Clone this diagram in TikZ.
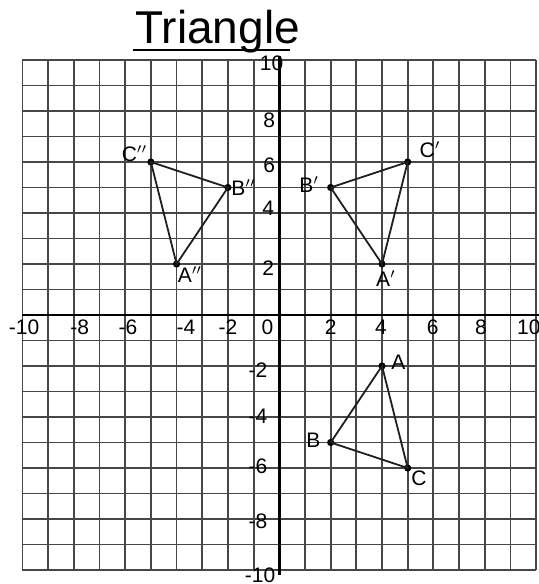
\documentclass[tikz,border=0pt]{standalone}
\usepackage{fontspec}
\setmainfont{Liberation Sans}
\begin{document}
\begin{tikzpicture}[x=12.84pt,y=12.75pt,
  gridline/.style={black!72, line width=0.9pt},
  axisline/.style={black, line width=1.4pt},
  ticklbl/.style={font=\fontsize{10.5}{12}\selectfont, inner sep=0pt},
  ptlbl/.style={font=\fontsize{10.5}{12}\selectfont, inner sep=0pt},
  ptdot/.style={circle, fill=black, inner sep=0pt, minimum size=3.6pt},
  triedge/.style={black!88, line width=0.9pt}]
\useasboundingbox[fill=white] (-10.876,-10.549) rectangle (10.113,12.353);
% grid
\foreach \i in {-10,...,10} {
  \draw[gridline] (\i,-10) -- (\i,10);
  \draw[gridline] (-10,\i) -- (10,\i);
}
% axes
\coordinate (xl) at (-10,0);
\coordinate (xr) at (10.12,0);
\coordinate (yt) at (0,10.15);
\coordinate (yb) at (0,-10.2);
\draw[axisline] (xl) -- (xr);
\draw[axisline] (yt) -- (yb);
% title
\node[font=\fontsize{23}{26}\selectfont, anchor=base, inner sep=0pt] (title) at (-2.4,10.65) {Triangle};
\coordinate (ula) at (-5.70,10.40);
\coordinate (ulb) at (0.40,10.40);
\draw[line width=1pt] (ula) -- (ulb);
% x-axis labels
\node[ticklbl] (xm10) at (-9.94,-0.47) {-10};
\node[ticklbl] (xm8) at (-7.77,-0.47) {-8};
\node[ticklbl] (xm6) at (-5.89,-0.47) {-6};
\node[ticklbl] (xm4) at (-3.63,-0.47) {-4};
\node[ticklbl] (xm2) at (-2.0,-0.47) {-2};
\node[ticklbl] (x0) at (-0.46,-0.47) {0};
\node[ticklbl] (x2) at (2.0,-0.47) {2};
\node[ticklbl] (x4) at (3.96,-0.47) {4};
\node[ticklbl] (x6) at (5.97,-0.47) {6};
\node[ticklbl] (x8) at (7.85,-0.47) {8};
\node[ticklbl] (x10) at (9.72,-0.47) {10};
% y-axis labels
\node[ticklbl] (y10) at (-0.30,9.88) {10};
\node[ticklbl] (y8) at (-0.39,7.65) {8};
\node[ticklbl] (y6) at (-0.39,5.88) {6};
\node[ticklbl] (y4) at (-0.43,4.2) {4};
\node[ticklbl] (y2) at (-0.43,1.84) {2};
\node[ticklbl] (ym2) at (-0.83,-2.16) {-2};
\node[ticklbl] (ym4) at (-0.83,-3.99) {-4};
\node[ticklbl] (ym6) at (-0.83,-5.95) {-6};
\node[ticklbl] (ym8) at (-0.83,-8.1) {-8};
\node[ticklbl] (ym10) at (-0.75,-10.2) {-10};
% points
\node[ptdot] (A) at (4,-2) {};
\node[ptdot] (B) at (2,-5) {};
\node[ptdot] (C) at (5,-6) {};
\node[ptdot] (A1) at (4,2) {};
\node[ptdot] (B1) at (2,5) {};
\node[ptdot] (C1) at (5,6) {};
\node[ptdot] (A2) at (-4,2) {};
\node[ptdot] (B2) at (-2,5) {};
\node[ptdot] (C2) at (-5,6) {};
% triangles
\draw[triedge] (A.center) -- (B.center) -- (C.center) -- cycle;
\draw[triedge] (A1.center) -- (B1.center) -- (C1.center) -- cycle;
\draw[triedge] (A2.center) -- (B2.center) -- (C2.center) -- cycle;
% point labels
\node[ptlbl] (lA) at (4.64,-1.86) {A};
\node[ptlbl] (lB) at (1.33,-4.92) {B};
\node[ptlbl] (lC) at (5.44,-6.41) {C};
\node[ptlbl] (lA1) at (4.15,1.41) {A$'$};
\node[ptlbl] (lB1) at (1.16,5.10) {B$'$};
\node[ptlbl] (lC1) at (5.87,6.5) {C$'$};
\node[ptlbl] (lA2) at (-3.48,1.57) {A$''$};
\node[ptlbl] (lB2) at (-1.39,4.98) {B$''$};
\node[ptlbl] (lC2) at (-5.64,6.34) {C$''$};
\end{tikzpicture}
\end{document}
